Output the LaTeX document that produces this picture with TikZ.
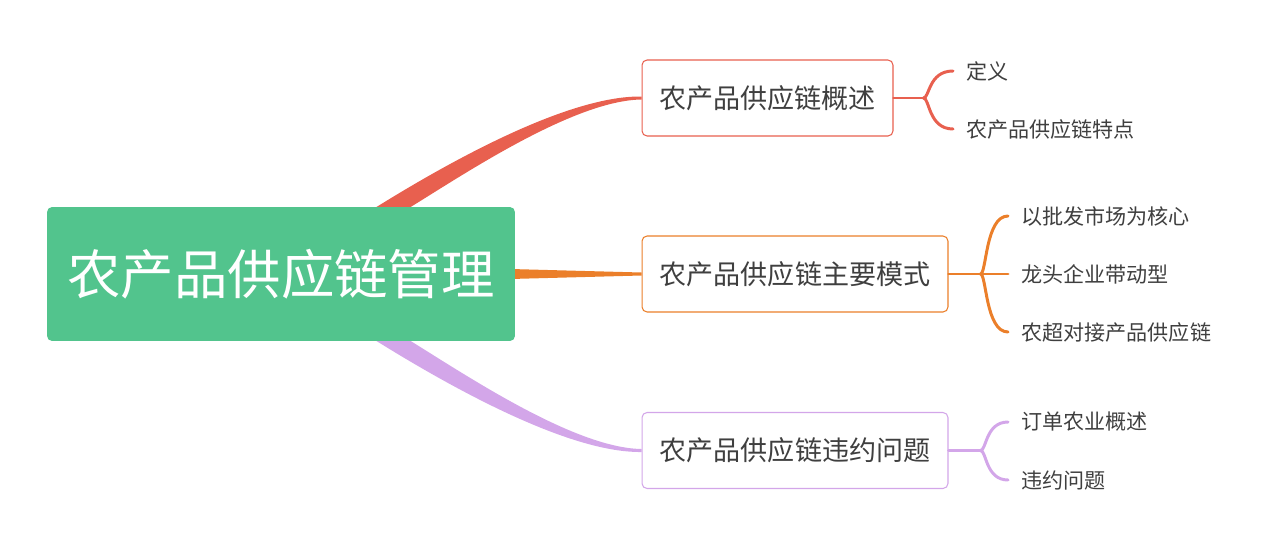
\documentclass[tikz,border=0pt]{standalone}
\usepackage{fontspec}
\setmainfont{Noto Sans CJK SC}
\usepackage{tikz}
\usetikzlibrary{calc,backgrounds}

\definecolor{topicgreen}{HTML}{52C48D}
\definecolor{linered}{HTML}{E8604F}
\definecolor{lineorange}{HTML}{EB7F2A}
\definecolor{linepurple}{HTML}{D3A6E9}
\definecolor{textgray}{HTML}{3F3F3F}

\begin{document}
\begin{tikzpicture}[x=0.02cm, y=-0.02cm,
    topic/.style={rectangle, rounded corners=0.1cm, fill=topicgreen, text=white, minimum width=9.36cm, minimum height=2.68cm, font=\fontsize{30.4}{36}\selectfont},
    sub/.style={rectangle, rounded corners=0.1cm, fill=white, line width=0.6pt, text=textgray, minimum height=1.52cm, font=\fontsize{15.4}{19}\selectfont},
    leaf/.style={anchor=west, inner ysep=2pt, inner xsep=0.26cm, text=textgray, font=\fontsize{12}{15}\selectfont},
    brace/.style={line width=1.7pt, line cap=round}
]
    \useasboundingbox (0,0) rectangle (1280,551);

    % Root topic
    \node[topic] (topic) at (281,274) {农产品供应链管理};

    % Main branches
    \node[sub, draw=linered, minimum width=5.02cm] (sub1) at (767.5,98) {农产品供应链概述};
    \node[sub, draw=lineorange, minimum width=6.12cm] (sub2) at (795,274) {农产品供应链主要模式};
    \node[sub, draw=linepurple, minimum width=6.12cm] (sub3) at (795,450.5) {农产品供应链违约问题};

    % Leaves
    \node[leaf] (leaf11) at (953,71) {定义};
    \node[leaf] (leaf12) at (953,129) {农产品供应链特点};
    \node[leaf] (leaf21) at (1008,216) {以批发市场为核心};
    \node[leaf] (leaf22) at (1008,274) {龙头企业带动型};
    \node[leaf] (leaf23) at (1008,332) {农超对接产品供应链};
    \node[leaf] (leaf31) at (1008,422) {订单农业概述};
    \node[leaf] (leaf32) at (1008,480) {违约问题};

    % Tapered branches behind the root
    \begin{scope}[on background layer]
    \fill[linered] ($(topic.north)+(88,5)$) .. controls ($(topic.north)+(155,-37)$) and ($(sub1.west)+(-78,-2.5)$) .. ($(sub1.west)+(0,-1.5)$)
        -- ($(sub1.west)+(0,1.5)$) .. controls ($(sub1.west)+(-70,2.5)$) and ($(topic.north)+(175,-27)$) .. ($(topic.north)+(122,5)$) -- cycle;
    \fill[lineorange] ($(topic.east)+(-5,-5)$) -- ($(sub2.west)+(0,-1.5)$) -- ($(sub2.west)+(0,1.5)$) -- ($(topic.east)+(-5,5)$) -- cycle;
    \fill[linepurple] ($(topic.south)+(88,-5)$) .. controls ($(topic.south)+(155,37)$) and ($(sub3.west)+(-78,2.5)$) .. ($(sub3.west)+(0,1.5)$)
        -- ($(sub3.west)+(0,-1.5)$) .. controls ($(sub3.west)+(-70,-2.5)$) and ($(topic.south)+(175,27)$) .. ($(topic.south)+(122,-5)$) -- cycle;
    \end{scope}

    % Braces to leaves
    \coordinate (j1) at ($(sub1.east)+(30,0)$);
    \coordinate (j2) at ($(sub2.east)+(32,0)$);
    \coordinate (j3) at ($(sub3.east)+(32,0)$);

    \draw[brace, linered] (sub1.east) -- (j1);
    \draw[brace, linered] (j1) .. controls ($(j1)+(6,0)$) and ($(j1 |- leaf11.west)+(5,0)$) .. (leaf11.west);
    \draw[brace, linered] (j1) .. controls ($(j1)+(6,0)$) and ($(j1 |- leaf12.west)+(5,0)$) .. (leaf12.west);

    \draw[brace, lineorange] (sub2.east) -- (leaf22.west);
    \draw[brace, lineorange] (j2) .. controls ($(j2)+(6,0)$) and ($(j2 |- leaf21.west)+(5,0)$) .. (leaf21.west);
    \draw[brace, lineorange] (j2) .. controls ($(j2)+(6,0)$) and ($(j2 |- leaf23.west)+(5,0)$) .. (leaf23.west);

    \draw[brace, linepurple] (sub3.east) -- (j3);
    \draw[brace, linepurple] (j3) .. controls ($(j3)+(6,0)$) and ($(j3 |- leaf31.west)+(5,0)$) .. (leaf31.west);
    \draw[brace, linepurple] (j3) .. controls ($(j3)+(6,0)$) and ($(j3 |- leaf32.west)+(5,0)$) .. (leaf32.west);

\end{tikzpicture}
\end{document}
